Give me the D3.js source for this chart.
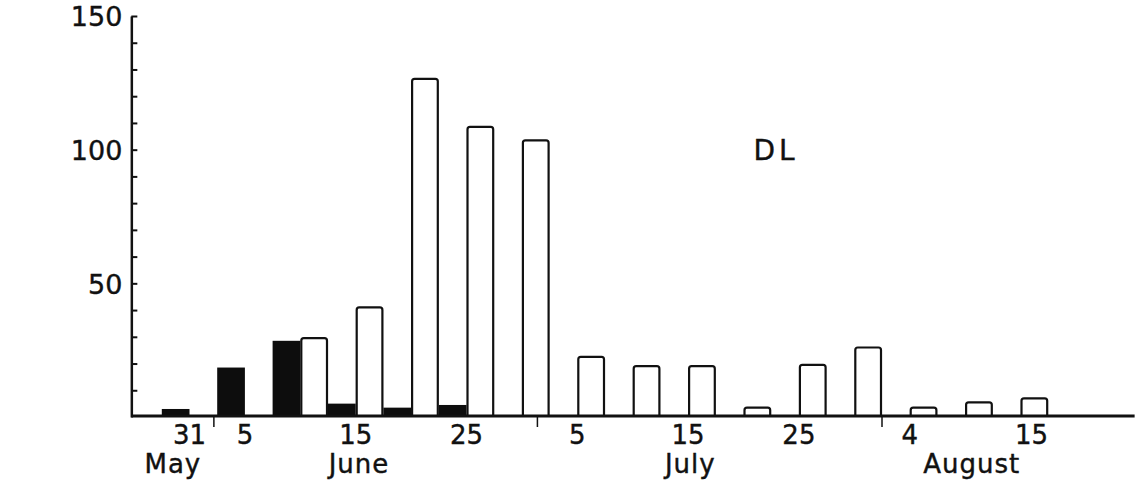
<!DOCTYPE html>
<html>
<head>
<meta charset="utf-8">
<script src="https://cdn.jsdelivr.net/npm/d3@7"></script>
<style>
  html, body { margin: 0; padding: 0; background: #fff; }
  svg { display: block; }
  text { font-family: "DejaVu Sans", sans-serif; fill: #111; stroke: #111; stroke-width: 0.4px; }
</style>
</head>
<body>
<svg id="chart" width="1137" height="482"></svg>
<script>
// ---- data (days counted from 31 May; each 5-day period centred on its day) ----
const periodCentres = [0, 5, 10, 15, 20, 25, 30, 35, 40, 45, 50, 55, 60, 65, 70, 75];
const blackValues   = [3, 18.5, 28.5, 5, 3.5, 4.5, 0, 0, 0, 0, 0, 0, 0, 0, 0, 0];
const whiteValues   = [0, 0, 29.5, 41, 126.5, 108.5, 103.5, 22.5, 19, 19, 3.5, 19.5, 26, 3.5, 5.5, 7];
const dayTickDays   = [0, 5, 15, 25, 35, 45, 55, 65, 76];
const dayTickLabels = ["31", "5", "15", "25", "5", "15", "25", "4", "15"];
const monthNames    = ["May", "June", "July", "August"];
const monthLabelDays = [-1.5, 15.3, 45.2, 70.6];
const monthBoundaryDays = [2.2, 31.4, 62.5];
const yTicks = [0, 10, 20, 30, 40, 50, 60, 70, 80, 90, 100, 110, 120, 130, 140, 150];
const yLabelValues = [50, 100, 150];
const panelLabel = "DL";

const svg = d3.select("#chart");
const x = d3.scaleLinear().domain([0, 75]).range([189.5, 1020.5]);
const y = d3.scaleLinear().domain([0, 150]).range([417, 16]);
const halfPeriod = 2.5;
const axisDay = -5.25, endDay = 85.3;
const bw = x(halfPeriod) - x(0);

// bars
const g = svg.append("g");
g.selectAll("rect.black").data(periodCentres.map((d, i) => ({d, v: blackValues[i]})).filter(o => o.v > 0))
  .join("rect").attr("class", "black")
  .attr("x", o => x(o.d - halfPeriod)).attr("width", bw)
  .attr("y", o => y(o.v)).attr("height", o => y(0) - y(o.v))
  .attr("fill", "#0d0d0d");

g.selectAll("path.white").data(periodCentres.map((d, i) => ({d, v: whiteValues[i]})).filter(o => o.v > 0))
  .join("path").attr("class", "white")
  .attr("d", o => {
    const x0 = x(o.d) + 1, x1 = x(o.d + halfPeriod) - 1, yt = y(o.v), yb = y(0) - 1, r = 2.5;
    return `M${x0},${yb}V${yt + r}Q${x0},${yt} ${x0 + r},${yt}H${x1 - r}Q${x1},${yt} ${x1},${yt + r}V${yb}`;
  })
  .attr("fill", "#fff").attr("stroke", "#111").attr("stroke-width", 2.2);

// y axis
const yAxis = d3.axisLeft(y).tickValues(yTicks).tickSizeInner(-6).tickSizeOuter(0).tickPadding(9)
  .tickFormat(v => yLabelValues.includes(v) ? String(v) : "");
const ya = svg.append("g").attr("transform", `translate(${x(axisDay)},0)`).call(yAxis);
ya.select(".domain").attr("stroke", "#111").attr("stroke-width", 2.5);
ya.selectAll(".tick line").attr("stroke", "#111").attr("stroke-width", 2);
ya.selectAll(".tick").filter(v => v === 0).select("line").remove();
ya.selectAll(".tick text").attr("font-family", "DejaVu Sans, sans-serif").attr("font-size", 27)
  .attr("fill", "#111").attr("dy", "0.36em");

// baseline
svg.append("line").attr("x1", x(axisDay)).attr("x2", x(endDay)).attr("y1", y(0) - 1).attr("y2", y(0) - 1)
  .attr("stroke", "#111").attr("stroke-width", 3);

// month boundary ticks
svg.selectAll("line.mb").data(monthBoundaryDays).join("line").attr("class", "mb")
  .attr("x1", d => x(d)).attr("x2", d => x(d)).attr("y1", y(0)).attr("y2", y(0) + 10)
  .attr("stroke", "#111").attr("stroke-width", 1.5);

// day labels
svg.selectAll("text.day").data(dayTickDays).join("text").attr("class", "day")
  .attr("x", d => x(d)).attr("y", 444).attr("text-anchor", "middle")
  .attr("font-size", 26).text((d, i) => dayTickLabels[i]);

// month labels
svg.selectAll("text.month").data(monthLabelDays).join("text").attr("class", "month")
  .attr("x", d => x(d)).attr("y", 473).attr("text-anchor", "middle")
  .attr("font-size", 26).attr("letter-spacing", 1).text((d, i) => monthNames[i]);

// panel label
svg.append("text").attr("x", 776).attr("y", 160).attr("text-anchor", "middle")
  .attr("font-size", 28).attr("letter-spacing", 4).text(panelLabel);
</script>
</body>
</html>
